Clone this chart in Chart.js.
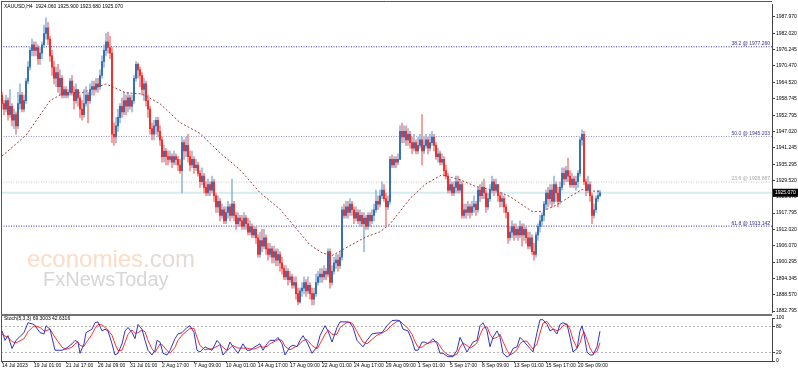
<!DOCTYPE html>
<html lang="en">
<head>
<meta charset="UTF-8">
<title>XAUUSD H4</title>
<script src="https://cdn.jsdelivr.net/npm/chart.js"></script>
<style>
  body { margin: 0; background: #fff; }
  #wrap { position: relative; width: 798px; height: 372px; overflow: hidden; background: #fff; }
  canvas { position: absolute; left: 0; }
</style>
</head>
<body>
<div id="wrap">
  <canvas id="priceChart" width="798" height="316" style="top:0"></canvas>
  <canvas id="stochChart" width="798" height="58" style="top:314px"></canvas>
</div>
<script>
// XAUUSD H4 candles, one per bar index (0 = 14 Jul 2023 09:00)
const opens = [
  1960,1957,1955,1958,1953,1956,1951,1953,1949,1957,
  1960,1955,1958,1965,1970,1976,1978,1976,1977,1973,
  1975,1978,1982,1984,1980,1974,1970,1966,1968,1963,
  1966,1960,1962,1960,1961,1965,1961,1958,1962,1959,
  1955,1953,1957,1960,1958,1962,1963,1962,1964,1963,
  1967,1972,1976,1979,1977,1975,1946,1945,1949,1952,
  1956,1954,1958,1956,1959,1956,1958,1966,1971,1969,
  1967,1962,1964,1958,1955,1948,1946,1949,1951,1947,
  1944,1938,1940,1938,1937,1938,1936,1938,1937,1935,
  1933,1943,1940,1942,1938,1935,1937,1934,1935,1932,
  1929,1931,1927,1925,1928,1926,1929,1924,1920,1922,
  1917,1919,1915,1918,1920,1917,1921,1917,1914,1916,
  1915,1913,1916,1914,1911,1913,1910,1912,1909,1903,
  1908,1906,1909,1905,1903,1905,1902,1904,1901,1903,
  1900,1898,1895,1897,1894,1895,1892,1893,1889,1886,
  1890,1891,1893,1890,1892,1889,1887,1889,1893,1895,
  1896,1895,1897,1896,1904,1893,1897,1900,1901,1899,
  1902,1919,1917,1920,1918,1921,1919,1916,1918,1915,
  1917,1914,1916,1913,1917,1915,1917,1919,1922,1921,
  1924,1926,1923,1920,1922,1937,1935,1937,1936,1937,
  1947,1945,1947,1944,1946,1943,1941,1943,1940,1942,
  1944,1940,1942,1944,1941,1943,1945,1942,1938,1939,
  1936,1937,1933,1931,1926,1928,1925,1927,1929,1926,
  1928,1917,1919,1918,1920,1918,1920,1921,1919,1926,
  1924,1927,1925,1920,1923,1926,1929,1926,1928,1924,
  1922,1923,1920,1918,1909,1911,1913,1910,1912,1910,
  1913,1910,1912,1909,1906,1909,1904,1903,1910,1913,
  1915,1917,1921,1925,1923,1926,1922,1928,1925,1922,
  1927,1932,1930,1933,1931,1928,1930,1928,1929,1932,
  1944,1946,1929,1926,1928,1924,1917,1919,1923,1924.06
];
const highs = [
  1961,1958,1960,1959,1962,1957,1955,1954,1961,1964,
  1961,1960,1966,1972,1977,1980,1979,1979,1978,1977,
  1979,1985,1987.6,1986,1981,1976,1972,1970,1971,1969,
  1967,1963,1963,1962,1966,1967,1963,1964,1962,1960,
  1958,1962,1963,1961,1964,1965,1965,1966,1966,1969,
  1974,1978,1982,1982.5,1981,1977,1950,1952,1955,1957,
  1959,1961,1960,1961,1960,1960,1967,1972,1971.5,1970,
  1968,1966,1965,1960,1956,1950,1951,1952,1952,1949,
  1945,1942,1941,1940,1940,1939,1940,1939,1938,1937,
  1945,1944,1945,1946,1940,1940,1938,1937,1936,1933,
  1934,1932,1929,1930,1929,1931,1930,1925,1924,1923,
  1921,1920,1920,1922,1921,1930,1922,1918,1918,1917,
  1917,1918,1917,1916,1915,1914,1913,1913,1910,1911,
  1912,1912,1910,1907,1907,1906,1906,1905,1905,1904,
  1902,1899,1899,1898,1897,1896,1895,1895,1891,1891,
  1893,1895,1894,1895,1893,1891,1891,1896,1897,1898,
  1898,1899,1898,1905,1905,1899,1902,1903,1903,1904,
  1920,1921,1922,1922,1923,1922,1920,1920,1919,1919,
  1918,1918,1917,1918,1918,1919,1921,1926,1924,1926,
  1929,1928,1925,1924,1938,1938.5,1938,1938,1939,1949,
  1950,1949,1949,1948,1947,1945,1946,1944,1945,1946,
  1953,1945,1946,1945,1946,1947,1946,1943,1941,1940,
  1939,1938,1935,1932,1930,1929,1929,1931,1931,1930,
  1929,1921,1921,1922,1921,1922,1924,1922,1927,1928,
  1929,1930,1926,1925,1928,1931,1930,1930,1928,1925,
  1925,1924,1921,1918,1913,1915,1914,1914,1913,1915,
  1914,1914,1913,1911,1911,1910,1907,1911,1914,1917,
  1918,1922,1926,1927,1928,1928,1931,1929,1927,1929,
  1934,1934,1934.5,1937.5,1933,1932,1931,1931,1933,1945,
  1947.6,1947,1930,1931,1929,1925,1921,1924,1926,1925.9
];
const lows = [
  1955,1953,1954,1951,1952,1949,1948,1946,1948,1955,
  1954,1954,1957,1964,1969,1974,1974,1974,1971,1971,
  1973,1977,1980,1978,1972,1967,1964,1963,1961,1960,
  1959,1959,1959,1959,1960,1960,1955,1957,1956,1952,
  1951,1952,1956,1950,1957,1960,1960,1961,1961,1962,
  1966,1970,1974,1975,1973,1943,1942,1943,1947,1950,
  1952,1953,1953,1954,1955,1954,1957,1965,1966,1963,
  1960,1958,1956,1952,1946,1944,1944,1946,1945,1942,
  1936,1936,1935,1935,1936,1934,1935,1935,1933,1932,
  1925,1937,1938,1936,1933,1934,1932,1933,1931,1927,
  1928,1925,1924,1924,1924,1925,1922,1918,1918,1915,
  1916,1914,1914,1916,1915,1916,1915,1912,1913,1913,
  1912,1912,1912,1910,1910,1909,1909,1907,1902,1902,
  1904,1905,1903,1901,1902,1900,1900,1899,1899,1897,
  1896,1894,1894,1892,1893,1891,1891,1887,1885,1885.5,
  1888,1889,1888,1889,1887,1885,1885,1888,1892,1893,
  1893,1894,1894,1895,1891,1892,1896,1898,1897,1898,
  1901,1916,1916,1916,1917,1917,1914,1915,1914,1913,
  1913,1904,1912,1912,1913,1914,1915,1918,1919,1920,
  1923,1922,1913,1919,1921,1934,1934,1934,1935,1937,
  1943,1943,1942,1942,1941,1939,1940,1939,1939,1941,
  1935,1939,1941,1939,1940,1942,1940,1937,1936,1935,
  1935,1931,1930,1925,1925,1924,1924,1925,1925,1925,
  1916,1916,1916,1917,1916,1917,1918,1917,1918,1922,
  1923,1923,1918,1919,1922,1925,1924,1925,1922,1920,
  1920,1918,1916,1907,1908,1909,1908,1909,1908,1909,
  1906,1908,1907,1905,1905,1903,1901,1902,1908,1911,
  1913,1915,1919,1920,1921,1920,1921,1922,1920,1921,
  1926,1928,1929,1929,1927,1927,1927,1926,1927,1931,
  1942,1928,1924,1925,1922,1914,1916,1918,1922,1923.68
];
const closes = [
  1957,1955,1958,1953,1956,1951,1953,1949,1957,1960,
  1955,1958,1965,1970,1976,1978,1976,1977,1973,1975,
  1978,1982,1984,1980,1974,1970,1966,1968,1963,1966,
  1960,1962,1960,1961,1965,1961,1958,1962,1959,1955,
  1953,1957,1960,1958,1962,1963,1962,1964,1963,1967,
  1972,1976,1979,1977,1975,1946,1945,1949,1952,1956,
  1954,1958,1956,1959,1956,1958,1966,1971,1969,1967,
  1962,1964,1958,1955,1948,1946,1949,1951,1947,1944,
  1938,1940,1938,1937,1938,1936,1938,1937,1935,1933,
  1943,1940,1942,1938,1935,1937,1934,1935,1932,1929,
  1931,1927,1925,1928,1926,1929,1924,1920,1922,1917,
  1919,1915,1918,1920,1917,1921,1917,1914,1916,1915,
  1913,1916,1914,1911,1913,1910,1912,1909,1903,1908,
  1906,1909,1905,1903,1905,1902,1904,1901,1903,1900,
  1898,1895,1897,1894,1895,1892,1893,1889,1886,1890,
  1891,1893,1890,1892,1889,1887,1889,1893,1895,1896,
  1895,1897,1896,1904,1893,1897,1900,1901,1899,1902,
  1919,1917,1920,1918,1921,1919,1916,1918,1915,1917,
  1914,1916,1913,1917,1915,1917,1919,1922,1921,1924,
  1926,1923,1920,1922,1937,1935,1937,1936,1937,1947,
  1945,1947,1944,1946,1943,1941,1943,1940,1942,1944,
  1940,1942,1944,1941,1943,1945,1942,1938,1939,1936,
  1937,1933,1931,1926,1928,1925,1927,1929,1926,1928,
  1917,1919,1918,1920,1918,1920,1921,1919,1926,1924,
  1927,1925,1920,1923,1926,1929,1926,1928,1924,1922,
  1923,1920,1918,1909,1911,1913,1910,1912,1910,1913,
  1910,1912,1909,1906,1909,1904,1903,1910,1913,1915,
  1917,1921,1925,1923,1926,1922,1928,1925,1922,1927,
  1932,1930,1933,1931,1928,1930,1928,1929,1932,1944,
  1946,1929,1926,1928,1924,1917,1919,1923,1924.06,1925.07
];

// moving average (dotted red line), sampled at these bars
const maBars = [0,12,24,31,40,52,62,70,79,89,99,109,119,129,139,146,154,160,165,172,
                182,189,194,204,212,220,229,237,247,254,265,270,277,284,290,294,299];
const maValues = [1938.2,1945.6,1958.0,1960.8,1960.8,1964.0,1960.8,1960.4,1956.9,1950.2,
                  1946.3,1939.3,1933.3,1925.1,1919.2,1913.2,1906.4,1903.6,1902.6,1905.4,
                  1909.3,1911.1,1913.9,1923.0,1928.3,1931.5,1929.7,1927.3,1925.8,1923.7,
                  1918.4,1918.4,1920.6,1923.7,1926.2,1925.8,1925.5];

// fibonacci retracement levels
const fibNames = ['38.2', '50.0', '23.6', '61.8'];
const fibLevels = [1977.260, 1945.203, 1928.887, 1913.142];

// price axis and time axis labels
const priceTicks = [1987.970,1982.020,1976.245,1970.470,1964.520,1958.745,1952.795,1947.020,
                    1941.245,1935.295,1929.520,1923.570,1917.795,1912.020,1906.070,1900.295,
                    1894.345,1888.570,1882.795];
const tickBars = [0,16,32,48,64,80,96,112,128,144,160,176,192,208,224,240,256,272,288];
const timeLabels = ['14 Jul 2023','19 Jul 01:00','21 Jul 17:00','26 Jul 09:00','31 Jul 01:00',
                    '2 Aug 17:00','7 Aug 09:00','10 Aug 01:00','14 Aug 17:00','17 Aug 09:00',
                    '22 Aug 01:00','24 Aug 17:00','29 Aug 09:00','1 Sep 01:00','5 Sep 17:00',
                    '8 Sep 09:00','13 Sep 01:00','15 Sep 17:00','20 Sep 09:00'];

// Stochastic(5,3,3): main and signal, sampled at these bars
const stochBars = [
  0,1.5,3,5,7,11,13,16,19,21,
  22,24,26.5,30,32,35,36.5,38,39,41,
  42,45,46.5,48,50,51.5,53,55,56.5,58,
  60,61.5,63,65,66.5,68,70,71.5,73,75,
  76.5,77.5,79,80.5,82.5,84,86.5,88,90,92.5,
  94,96,97.5,99,101.5,103,105,107.5,109,110.5,
  112.5,114,115.5,118,120.5,122.5,124,126.5,129,130.5,
  132.5,134,136.5,138,140,141.5,144,145.5,147.5,149,
  150.5,152.5,155,157.5,159,161.5,163,165,167.5,169,
  172.5,174,175.5,177.5,180.5,182.5,185,187.5,190,192.5,
  195,197.5,199,200.5,203,205,206.5,208,210,211.5,
  213,215.5,217.5,219,220.5,223,225.5,227.5,229,230.5,
  232.5,234,235.5,237.5,239,240.5,242.5,244,245.5,247.5,
  249,250.5,252.5,254,255.5,257.5,259,260.5,262.5,264,
  265.5,267.5,269,270.5,272.5,274,275.5,277.5,279,280.5,
  282.5,284,285.5,287.5,289,290,291,292.5,294,295.5,
  297.5,299
];
const stochMain = [
  70,48,59,29,48,66,89,85,66,63,
  82,74,25,25,29,40,48,44,18,40,
  66,74,89,91,70,74,70,40,14,18,
  40,70,78,66,52,85,74,48,25,14,
  25,48,44,18,14,25,52,63,66,78,
  82,66,25,21,33,29,25,48,40,14,
  25,44,33,18,40,25,25,33,40,25,
  40,48,48,55,40,14,33,37,33,48,
  59,44,18,33,59,82,70,44,78,91,
  91,89,78,48,33,48,63,65,66,82,
  94,95,93,74,70,48,25,25,44,44,
  40,52,40,18,18,10,10,25,55,40,
  21,33,44,48,82,89,70,33,55,70,
  55,18,9,14,29,33,55,48,37,29,
  21,66,96,96,85,70,74,63,85,89,
  85,55,21,29,70,82,63,21,14,14,
  33,69.3003
];
const stochSignal = [
  62,58,55,45,42,52,68,82,78,70,
  70,74,55,32,27,32,40,44,36,34,
  42,62,76,85,84,78,72,60,40,24,
  25,43,62,72,64,66,72,68,48,28,
  20,28,40,36,24,18,32,48,60,70,
  76,76,55,36,26,28,28,34,38,32,
  24,30,36,30,30,30,28,28,34,32,
  34,40,46,50,48,34,26,30,35,40,
  48,50,36,28,40,62,72,62,62,78,
  90,90,86,68,44,40,50,60,65,72,
  84,92,93,86,76,62,45,32,32,38,
  42,45,45,35,24,14,12,16,32,42,
  36,30,34,42,60,76,80,62,52,55,
  62,45,25,14,18,26,40,46,46,36,
  28,40,65,88,92,82,75,70,74,82,
  86,74,50,30,42,58,68,50,30,18,
  22,42.6316
];
const stochTicks = [0, 20, 80, 100];

const FONT = "'Liberation Sans', Arial, sans-serif";
Chart.defaults.font.family = FONT;
Chart.defaults.font.size = 5;
Chart.defaults.color = '#000';

const X_MIN = -0.5, X_MAX = 385;
const last = closes.length - 1;
const isUp = closes.map((c, i) => c >= opens[i]);

function flatLine(level, color, dash, width, order) {
  return {
    type: 'line', data: [{ x: X_MIN, y: level }, { x: X_MAX, y: level }],
    borderColor: color, borderWidth: width, borderDash: dash, pointRadius: 0, order: order
  };
}

const fibLineColors = ['#35359a', '#8e8ecc', '#c9c9c9', '#35359a'];
const fibTextColors = ['#2e2e96', '#3a3a9a', '#a8a8a8', '#2e2e96'];

const priceDecor = {
  id: 'priceDecor',
  beforeDatasetsDraw(chart) {
    const ctx = chart.ctx;
    ctx.save();
    ctx.textBaseline = 'alphabetic';
    ctx.font = '24px ' + FONT;
    ctx.fillStyle = '#fcdcc7';
    ctx.fillText('economies', 27, 267);
    const w = ctx.measureText('economies').width;
    ctx.fillStyle = '#e4dbd6';
    ctx.fillText('.com', 27 + w, 267);
    ctx.font = '20px ' + FONT;
    ctx.fillStyle = '#d6d6d6';
    ctx.fillText('FxNewsToday', 43, 286);
    ctx.restore();
  },
  afterDatasetsDraw(chart) {
    const ctx = chart.ctx, y = chart.scales.y;
    ctx.save();
    ctx.font = '5px ' + FONT;
    ctx.textAlign = 'right';
    ctx.textBaseline = 'bottom';
    fibLevels.forEach((lv, i) => {
      ctx.fillStyle = fibTextColors[i];
      ctx.fillText(fibNames[i] + ' @ ' + lv.toFixed(3), 770, y.getPixelForValue(lv) - 0.5);
    });
    ctx.restore();
  },
  afterDraw(chart) {
    const ctx = chart.ctx, y = chart.scales.y;
    ctx.save();
    ctx.strokeStyle = '#555';
    ctx.lineWidth = 1;
    ctx.beginPath();
    ctx.moveTo(1.5, 1); ctx.lineTo(1.5, 314);
    ctx.moveTo(1, 1.5); ctx.lineTo(772, 1.5);
    ctx.stroke();
    ctx.font = '5px ' + FONT;
    ctx.textBaseline = 'middle';
    ctx.fillStyle = '#000';
    const ohlc = [opens[last], highs[last], lows[last], closes[last]].map(v => v.toFixed(3)).join(' ');
    ctx.fillText('XAUUSD,H4  ' + ohlc, 4, 7);
    const py = y.getPixelForValue(closes[last]);
    ctx.fillRect(773, py - 4, 25, 8);
    ctx.fillStyle = '#fff';
    ctx.fillText(closes[last].toFixed(3), 775, py);
    ctx.restore();
  }
};

new Chart(document.getElementById('priceChart'), {
  type: 'bar',
  data: {
    datasets: [
      {
        type: 'line', data: maBars.map((b, i) => ({ x: b, y: maValues[i] })),
        borderColor: '#a83a3a', borderWidth: 1, borderDash: [2, 2], pointRadius: 0, order: 0
      },
      {
        data: closes.map((c, i) => ({ x: i, y: [opens[i], c] })),
        backgroundColor: isUp.map(u => u ? '#3470b4' : '#f42c2c'),
        barThickness: 1.3, minBarLength: 1, grouped: false, order: 1
      },
      {
        data: highs.map((h, i) => ({ x: i, y: [lows[i], h] })),
        backgroundColor: isUp.map(u => u ? '#92b3da' : '#f58585'),
        barThickness: 0.9, grouped: false, order: 2
      },
      ...fibLevels.map((lv, i) => flatLine(lv, fibLineColors[i], [1, 1.5], 1, 3)),
      flatLine(closes[last], '#d5ecf1', [], 2, 4)
    ]
  },
  options: {
    responsive: false, animation: false, devicePixelRatio: 1, events: [],
    layout: { padding: { left: 1, top: 2, right: 0, bottom: 2 } },
    plugins: { legend: { display: false }, tooltip: { enabled: false } },
    scales: {
      x: { type: 'linear', min: X_MIN, max: X_MAX, offset: false, display: false },
      y: {
        type: 'linear', position: 'right', min: 1882.44, max: 1992.56,
        afterBuildTicks: s => { s.ticks = priceTicks.map(v => ({ value: v })); },
        afterFit: s => { s.width = 26; },
        ticks: { callback: v => v.toFixed(3), padding: 1, autoSkip: false, color: '#000' },
        grid: { drawOnChartArea: false, tickLength: 3, tickColor: '#444' },
        border: { color: '#444' }
      }
    }
  },
  plugins: [priceDecor]
});

const stochDecor = {
  id: 'stochDecor',
  afterDraw(chart) {
    const ctx = chart.ctx;
    ctx.save();
    ctx.fillStyle = '#737373';
    ctx.fillRect(1, 0, 771, 2);
    ctx.strokeStyle = '#555';
    ctx.beginPath();
    ctx.moveTo(1.5, 2); ctx.lineTo(1.5, chart.chartArea.bottom);
    ctx.stroke();
    ctx.font = '5px ' + FONT;
    ctx.fillStyle = '#000';
    ctx.textBaseline = 'middle';
    ctx.fillText('Stoch(5,3,3) ' + stochMain[stochMain.length - 1].toFixed(4) + ' ' +
                 stochSignal[stochSignal.length - 1].toFixed(4), 4, 5);
    ctx.restore();
  }
};

new Chart(document.getElementById('stochChart'), {
  type: 'line',
  data: {
    datasets: [
      { data: stochBars.map((b, i) => ({ x: b, y: stochMain[i] })), borderColor: '#3434c4', borderWidth: 1, pointRadius: 0 },
      { data: stochBars.map((b, i) => ({ x: b, y: stochSignal[i] })), borderColor: '#ff3030', borderWidth: 1, pointRadius: 0 }
    ]
  },
  options: {
    responsive: false, animation: false, devicePixelRatio: 1, events: [],
    layout: { padding: { left: 1, top: 3, right: 0, bottom: 0 } },
    plugins: { legend: { display: false }, tooltip: { enabled: false } },
    scales: {
      x: {
        type: 'linear', min: X_MIN, max: X_MAX, offset: false,
        afterBuildTicks: s => { s.ticks = tickBars.map(v => ({ value: v })); },
        afterFit: s => { s.height = 11; },
        ticks: {
          callback: v => timeLabels[tickBars.indexOf(v)], align: 'start',
          autoSkip: false, maxRotation: 0, padding: 0, color: '#000'
        },
        grid: { drawOnChartArea: false, tickLength: 2, tickColor: '#444' },
        border: { color: '#444' }
      },
      y: {
        type: 'linear', position: 'right', min: 0, max: 100,
        afterBuildTicks: s => { s.ticks = stochTicks.map(v => ({ value: v })); },
        afterFit: s => { s.width = 26; },
        ticks: { padding: 1, autoSkip: false, color: '#000' },
        grid: {
          color: c => (c.tick && (c.tick.value === 20 || c.tick.value === 80)) ? '#b4b4b4' : 'rgba(0,0,0,0)',
          tickColor: '#444', tickLength: 3
        },
        border: { color: '#444', dash: [2, 2] }
      }
    }
  },
  plugins: [stochDecor]
});
</script>
</body>
</html>
